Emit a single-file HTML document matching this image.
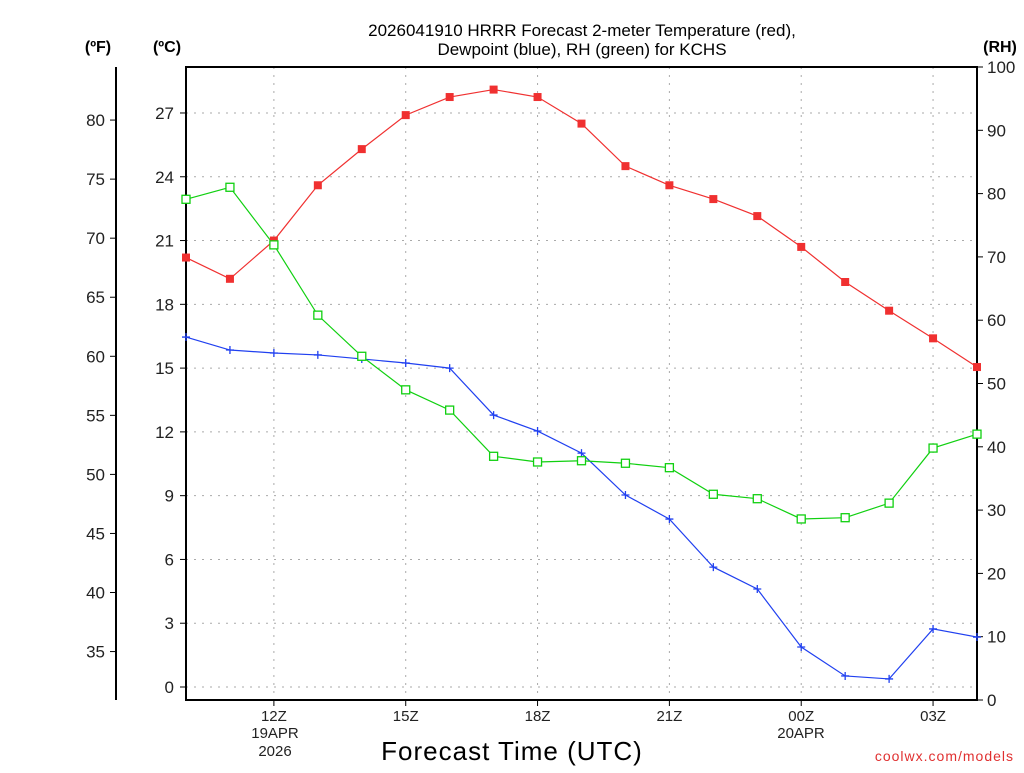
<!DOCTYPE html>
<html><head><meta charset="utf-8"><style>
body{margin:0;background:#fff;}
svg text{font-family:"Liberation Sans","DejaVu Sans",sans-serif;}
</style></head><body>
<svg id="chart" width="1024" height="768" xmlns="http://www.w3.org/2000/svg">
<text x="582" y="36" text-anchor="middle" font-size="17" fill="#000">2026041910 HRRR Forecast 2-meter Temperature (red),</text>
<text x="582" y="55" text-anchor="middle" font-size="17" fill="#000">Dewpoint (blue), RH (green) for KCHS</text>
<text x="98" y="52" text-anchor="middle" font-size="16" font-weight="bold">(ºF)</text>
<text x="167" y="52" text-anchor="middle" font-size="16" font-weight="bold">(ºC)</text>
<text x="1000" y="52" text-anchor="middle" font-size="16" font-weight="bold">(RH)</text>
<text x="512" y="760" text-anchor="middle" font-size="26" letter-spacing="1">Forecast Time (UTC)</text>
<text x="1014" y="761" text-anchor="end" font-size="14" fill="#e03030" letter-spacing="1">coolwx.com/models</text>
<g id="grid"></g><g id="axes"></g><g id="series"></g>
</svg>
<script>
const hours=[10,11,12,13,14,15,16,17,18,19,20,21,22,23,24,25,26,27,28];
const tempC=[20.2,19.2,21.0,23.6,25.3,26.9,27.75,28.1,27.75,26.5,24.5,23.6,22.95,22.15,20.7,19.05,17.7,16.4,15.05];
const dewC=[16.46,15.85,15.71,15.62,15.43,15.24,15.0,12.79,12.04,11.0,9.03,7.9,5.64,4.61,1.88,0.52,0.38,2.73,2.35];
const rh=[79.1,81.0,71.9,60.8,54.3,49.0,45.8,38.5,37.6,37.8,37.4,36.7,32.5,31.8,28.6,28.8,31.1,39.8,42.0];
const cTicks=[0,3,6,9,12,15,18,21,24,27];
const fTicks=[35,40,45,50,55,60,65,70,75,80];
const rhTicks=[0,10,20,30,40,50,60,70,80,90,100];
const timeTicks=[12,15,18,21,24,27];
const timeLabels=["12Z","15Z","18Z","21Z","00Z","03Z"];

const NS="http://www.w3.org/2000/svg";
const L=186,R=977,T=67,B=700;
const xS=h=>L+(h-10)*(R-L)/18;
const yC=c=>687-c*21.26;
const yF=f=>yC((f-32)*5/9);
const yR=r=>B-r*(B-T)/100;
function mk(p,tag,a){const e=document.createElementNS(NS,tag);for(const k in a)e.setAttribute(k,a[k]);p.appendChild(e);return e;}
const grid=document.getElementById('grid'),axes=document.getElementById('axes'),ser=document.getElementById('series');
cTicks.forEach(c=>{const y=yC(c);
 const g=mk(grid,'line',{x1:L,x2:R,y1:y,y2:y,stroke:'#aaa','stroke-dasharray':'2,6'});
 
 mk(axes,'line',{x1:L-6,x2:L,y1:y,y2:y,stroke:'#000'});
 const t=mk(axes,'text',{x:L-12,y:y+6,'text-anchor':'end','font-size':17,fill:'#222'});t.textContent=c;
 });
timeTicks.forEach((h,i)=>{const x=xS(h);
 const g=mk(grid,'line',{x1:x,x2:x,y1:T,y2:B,stroke:'#aaa','stroke-dasharray':'2,6'});
 
 mk(axes,'line',{x1:x,x2:x,y1:B,y2:B+6,stroke:'#000'});
 const t=mk(axes,'text',{x:x,y:721,'text-anchor':'middle','font-size':15,fill:'#222'});t.textContent=timeLabels[i];
 });
[[275,738,"19APR"],[275,756,"2026"],[801,738,"20APR"]].forEach(d=>{const t=mk(axes,'text',{x:d[0],y:d[1],'text-anchor':'middle','font-size':15,fill:'#222'});t.textContent=d[2];
 });
fTicks.forEach(f=>{const y=yF(f);
 mk(axes,'line',{x1:110,x2:116,y1:y,y2:y,stroke:'#000'});
 const t=mk(axes,'text',{x:105,y:y+6,'text-anchor':'end','font-size':17,fill:'#222'});t.textContent=f;
 });
mk(axes,'line',{x1:116,x2:116,y1:T,y2:B,stroke:'#000','stroke-width':2});
rhTicks.forEach(r=>{const y=yR(r);
 mk(axes,'line',{x1:R,x2:R+6,y1:y,y2:y,stroke:'#000'});
 const t=mk(axes,'text',{x:R+10,y:y+6,'font-size':17,fill:'#222'});t.textContent=r;
 });
const fr=mk(axes,'rect',{x:L,y:T,width:R-L,height:B-T,fill:'none',stroke:'#000','stroke-width':2});


function line(vals,yf,col,name){
 const pts=vals.map((v,i)=>xS(hours[i])+','+yf(v)).join(' ');
 const p=mk(ser,'polyline',{points:pts,fill:'none',stroke:col,'stroke-width':1.2});
 }
line(tempC,yC,'#f03030','temperature');
line(dewC,yC,'#2040f0','dewpoint');
line(rh,yR,'#10d010','rh');
tempC.forEach((v,i)=>{const r=mk(ser,'rect',{x:xS(hours[i])-4,y:yC(v)-4,width:8,height:8,fill:'#f03030'});
 });
dewC.forEach((v,i)=>{const x=xS(hours[i]),y=yC(v);
 const p=mk(ser,'path',{d:`M${x-4},${y}H${x+4}M${x},${y-4}V${y+4}`,stroke:'#2040f0','stroke-width':1.3});
 });
rh.forEach((v,i)=>{const r=mk(ser,'rect',{x:xS(hours[i])-4,y:yR(v)-4,width:8,height:8,fill:'#fff',stroke:'#10d010','stroke-width':1.3});
 });
</script>
</body></html>
